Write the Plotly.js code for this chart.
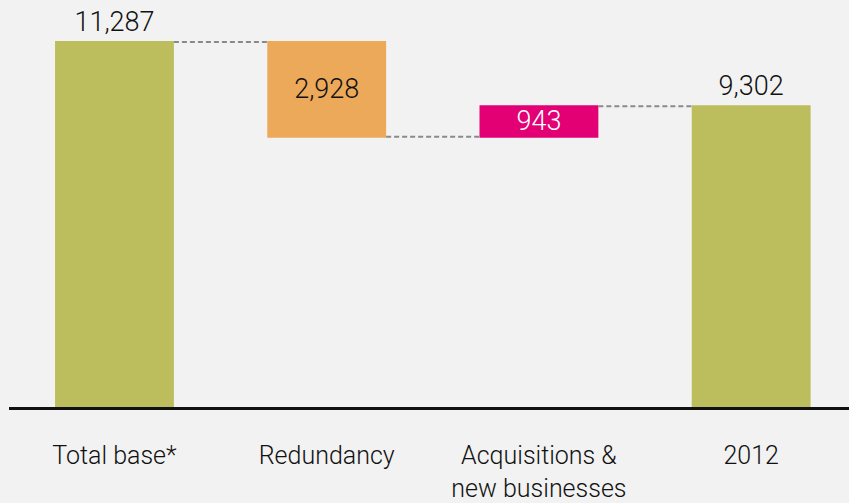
<!DOCTYPE html>
<html>
<head>
<meta charset="utf-8">
<script src="https://cdn.plot.ly/plotly-3.0.1.min.js"></script>
<style>html,body{margin:0;padding:0;background:#f2f2f2;}#chart{width:849px;height:503px;}</style>
</head>
<body>
<div id="chart"></div>
<script>
const categories = ["Total base*", "Redundancy", "Acquisitions &<br>new businesses", "2012"];
const measures = ["absolute", "relative", "relative", "total"];
const values = [11287, -2928, 943, 9302];
const textPositions = ["outside", "inside", "inside", "outside"];
const textColors = ["#111111", "#111111", "#ffffff", "#111111"];

const labels = values.map(v => Math.abs(v).toLocaleString("en-US"));
const FONT = "Roboto, 'Liberation Sans', sans-serif";

const trace = {
  type: "waterfall",
  x: [0, 1, 2, 3],
  measure: measures,
  y: values.map((v, i) => measures[i] === "total" ? 0 : v),
  text: labels,
  textinfo: "text",
  textposition: textPositions,
  textfont: {family: FONT, size: 27, weight: 300, color: textColors},
  insidetextanchor: "middle",
  constraintext: "none",
  cliponaxis: false,
  width: 0.56,
  increasing: {marker: {color: "#e20074"}},
  decreasing: {marker: {color: "#eda95a"}},
  totals: {marker: {color: "#bcbd5c"}},
  connector: {mode: "between", line: {color: "#8a8a8a", width: 2, dash: "5px,3px"}},
  hoverinfo: "skip"
};

const layout = {
  width: 849, height: 503,
  margin: {l: 9, r: 0, t: 0, b: 96},
  paper_bgcolor: "#f2f2f2",
  plot_bgcolor: "#f2f2f2",
  showlegend: false,
  hovermode: false,
  xaxis: {
    range: [-0.497, 3.461],
    tickmode: "array",
    tickvals: [0, 1, 2, 3],
    ticktext: categories,
    showgrid: false, zeroline: false,
    showline: true, linecolor: "#111111", linewidth: 3,
    ticks: "", ticklabelstandoff: 24,
    tickfont: {family: FONT, size: 25, weight: 300, color: "#111111"}
  },
  yaxis: {
    range: [0, 12585],
    visible: false, showgrid: false, zeroline: false
  }
};

Plotly.newPlot("chart", [trace], layout, {displayModeBar: false, staticPlot: true});
</script>
</body>
</html>
